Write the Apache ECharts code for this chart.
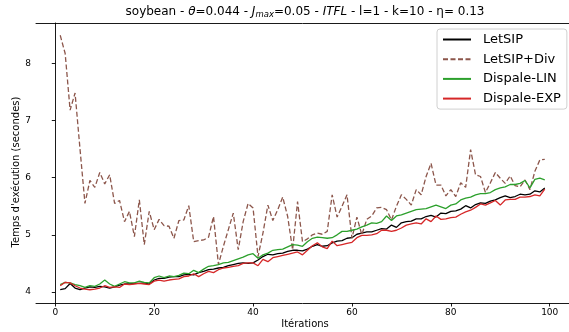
<!DOCTYPE html>
<html>
<head>
<meta charset="utf-8">
<script src="https://cdn.jsdelivr.net/npm/echarts@6/dist/echarts.min.js"></script>
<style>
  html, body { margin: 0; padding: 0; background: #fff; }
  #chart { width: 569px; height: 332px; }
</style>
</head>
<body>
<div id="chart"></div>
<script>
// temps d'execution par iteration (1..99)
const letsip = [
  4.04, 4.06, 4.15, 4.07, 4.04, 4.07, 4.09, 4.08, 4.10, 4.09,
  4.07, 4.09, 4.12, 4.14, 4.14, 4.15, 4.15, 4.16, 4.14, 4.21,
  4.24, 4.24, 4.26, 4.27, 4.27, 4.30, 4.31, 4.30, 4.34, 4.36,
  4.39, 4.40, 4.42, 4.43, 4.46, 4.48, 4.50, 4.51, 4.50, 4.51,
  4.56, 4.62, 4.66, 4.65, 4.67, 4.68, 4.71, 4.73, 4.73, 4.72,
  4.75, 4.80, 4.83, 4.80, 4.81, 4.86, 4.89, 4.90, 4.94, 4.95,
  5.01, 5.03, 5.05, 5.05, 5.08, 5.11, 5.10, 5.17, 5.13, 5.21,
  5.23, 5.24, 5.28, 5.28, 5.32, 5.34, 5.31, 5.38, 5.37, 5.41,
  5.42, 5.45, 5.51, 5.47, 5.53, 5.56, 5.55, 5.59, 5.61, 5.65,
  5.68, 5.65, 5.67, 5.71, 5.70, 5.71, 5.77, 5.75, 5.82
]
const letsipDiv = [
  8.49, 8.17, 7.18, 7.48, 6.50, 5.55, 5.95, 5.83, 6.09, 5.89,
  6.05, 5.55, 5.60, 5.23, 5.41, 4.97, 5.61, 4.83, 5.41, 5.09,
  5.27, 5.16, 5.15, 4.94, 5.25, 5.26, 5.51, 4.88, 4.90, 4.91,
  4.96, 5.32, 4.48, 4.80, 5.09, 5.38, 4.74, 5.23, 5.55, 5.47,
  4.62, 5.03, 5.52, 5.25, 5.44, 5.66, 5.32, 4.74, 5.58, 4.88,
  4.93, 5.00, 5.03, 5.01, 5.06, 5.70, 5.31, 5.50, 5.70, 4.94,
  5.31, 5.00, 5.27, 5.33, 5.47, 5.48, 5.44, 5.26, 5.50, 5.70,
  5.62, 5.52, 5.79, 5.70, 6.02, 6.25, 5.87, 5.87, 5.68, 5.79,
  5.67, 5.91, 5.83, 6.49, 6.05, 6.02, 5.74, 5.91, 6.09, 5.99,
  5.90, 6.03, 5.86, 5.84, 5.96, 5.79, 6.11, 6.31, 6.32
]
const dispaleLin = [
  4.13, 4.17, 4.16, 4.13, 4.11, 4.08, 4.11, 4.10, 4.14, 4.21,
  4.14, 4.10, 4.14, 4.18, 4.16, 4.16, 4.19, 4.17, 4.16, 4.25,
  4.28, 4.25, 4.28, 4.27, 4.29, 4.33, 4.32, 4.38, 4.34, 4.40,
  4.45, 4.46, 4.48, 4.51, 4.52, 4.55, 4.58, 4.61, 4.65, 4.67,
  4.59, 4.65, 4.68, 4.73, 4.74, 4.75, 4.79, 4.83, 4.82, 4.80,
  4.88, 4.94, 4.96, 4.95, 4.94, 4.95, 5.00, 5.06, 5.06, 5.08,
  5.10, 5.14, 5.17, 5.21, 5.20, 5.23, 5.33, 5.25, 5.33, 5.35,
  5.38, 5.41, 5.44, 5.45, 5.46, 5.49, 5.52, 5.49, 5.46, 5.52,
  5.54, 5.61, 5.64, 5.66, 5.70, 5.72, 5.72, 5.74, 5.79, 5.82,
  5.84, 5.88, 5.88, 5.90, 5.95, 5.82, 5.97, 5.99, 5.96
]
const dispaleExp = [
  4.11, 4.17, 4.16, 4.11, 4.07, 4.05, 4.04, 4.05, 4.07, 4.11,
  4.08, 4.09, 4.08, 4.14, 4.13, 4.14, 4.15, 4.14, 4.13, 4.19,
  4.21, 4.19, 4.21, 4.22, 4.23, 4.27, 4.28, 4.32, 4.27, 4.32,
  4.36, 4.34, 4.39, 4.42, 4.43, 4.45, 4.46, 4.50, 4.51, 4.51,
  4.46, 4.57, 4.53, 4.60, 4.62, 4.64, 4.66, 4.68, 4.70, 4.65,
  4.73, 4.81, 4.86, 4.79, 4.76, 4.89, 4.81, 4.83, 4.85, 4.87,
  4.95, 4.99, 4.99, 5.00, 5.02, 5.08, 5.08, 5.06, 5.08, 5.12,
  5.17, 5.19, 5.21, 5.19, 5.28, 5.23, 5.33, 5.27, 5.28, 5.30,
  5.31, 5.36, 5.40, 5.43, 5.48, 5.54, 5.52, 5.56, 5.60, 5.52,
  5.61, 5.62, 5.62, 5.66, 5.66, 5.67, 5.70, 5.68, 5.80
]
const xTicks = [0, 20, 40, 60, 80, 100]
const yTicks = [4, 5, 6, 7, 8]

const iterations = letsip.map((v, i) => i + 1)
const toPairs = arr => arr.map((v, i) => [iterations[i], v])

const fontFamily = 'DejaVu Sans'
const xMin = -3.9
const xMax = 103.9

let chart = echarts.init(document.getElementById('chart'), null, { renderer: 'canvas' })

// une serie par methode
function makeSeries (name, data, color, dashed) {
  return {
    name: name,
    type: 'line',
    data: toPairs(data),
    symbol: 'none',
    showSymbol: false,
    animation: false,
    lineStyle: {
      color: color,
      width: 1.3,
      type: dashed ? [5, 2.5] : 'solid'
    },
    itemStyle: { color: color }
  }
}

chart.setOption({
  animation: false,
  backgroundColor: '#fff',
  grid: {
    left: 36,
    top: 23,
    right: -6,
    bottom: 29
  },
  xAxis: [
    {
      type: 'value',
      min: xMin,
      max: xMax,
      splitLine: { show: false },
      axisLine: { show: true, lineStyle: { color: '#000', width: 0.9 } },
      axisTick: { show: true, length: 3.5, customValues: xTicks, lineStyle: { color: '#000', width: 0.9 } },
      axisLabel: { customValues: xTicks, color: '#000', fontSize: 9, fontFamily: fontFamily, margin: 5 }
    },
    {
      // bord superieur du cadre
      type: 'value',
      position: 'top',
      min: xMin,
      max: xMax,
      splitLine: { show: false },
      axisLine: { show: true, lineStyle: { color: '#000', width: 0.9 } },
      axisTick: { show: false },
      axisLabel: { show: false }
    }
  ],
  yAxis: {
    type: 'value',
    min: 3.808,
    max: 8.704,
    splitLine: { show: false },
    axisLine: { show: true, lineStyle: { color: '#000', width: 0.9 } },
    axisTick: { show: true, length: 3.5, customValues: yTicks, lineStyle: { color: '#000', width: 0.9 } },
    axisLabel: { customValues: yTicks, color: '#000', fontSize: 9, fontFamily: fontFamily, margin: 5 }
  },
  legend: {
    orient: 'vertical',
    left: 437,
    top: 29,
    padding: [4, 6, 4, 5],
    itemWidth: 28,
    itemHeight: 14,
    itemGap: 6.7,
    backgroundColor: 'rgba(255,255,255,0.85)',
    borderColor: '#d0d0d0',
    borderWidth: 1,
    borderRadius: 3,
    itemStyle: { opacity: 0 },
    textStyle: { color: '#000', fontSize: 13, fontFamily: fontFamily, padding: [0, 0, 0, 7] },
    data: ['LetSIP', 'LetSIP+Div', 'Dispale-LIN', 'Dispale-EXP']
  },
  graphic: [
    {
      type: 'text',
      x: 305,
      y: 12,
      style: {
        text: '{n|soybean - }{i|θ}{n|=0.044 - }{i|J}{s|max}{n|=0.05 - }{i|ITFL}{n| - l=1 - k=10 - η= 0.13}',
        align: 'center',
        verticalAlign: 'middle',
        fill: '#000',
        rich: {
          n: { fontSize: 12, fontFamily: fontFamily, fill: '#000' },
          i: { fontSize: 12, fontFamily: fontFamily, fontStyle: 'italic', fill: '#000' },
          s: { fontSize: 8.5, fontFamily: fontFamily, fontStyle: 'italic', fill: '#000', padding: [6, 0, 0, 0] }
        }
      }
    },
    {
      type: 'text',
      x: 305,
      y: 324,
      style: {
        text: 'Itérations',
        align: 'center',
        verticalAlign: 'middle',
        fill: '#000',
        fontSize: 10,
        fontFamily: fontFamily
      }
    },
    {
      type: 'text',
      x: 16,
      y: 172,
      rotation: Math.PI / 2,
      style: {
        text: 'Temps d\'exécution (secondes)',
        align: 'center',
        verticalAlign: 'middle',
        fill: '#000',
        fontSize: 10,
        fontFamily: fontFamily
      }
    }
  ],
  series: [
    makeSeries('LetSIP', letsip, '#000000', false),
    makeSeries('LetSIP+Div', letsipDiv, '#8c564b', true),
    makeSeries('Dispale-LIN', dispaleLin, '#2ca02c', false),
    makeSeries('Dispale-EXP', dispaleExp, '#d62728', false)
  ]
})
</script>
</body>
</html>
